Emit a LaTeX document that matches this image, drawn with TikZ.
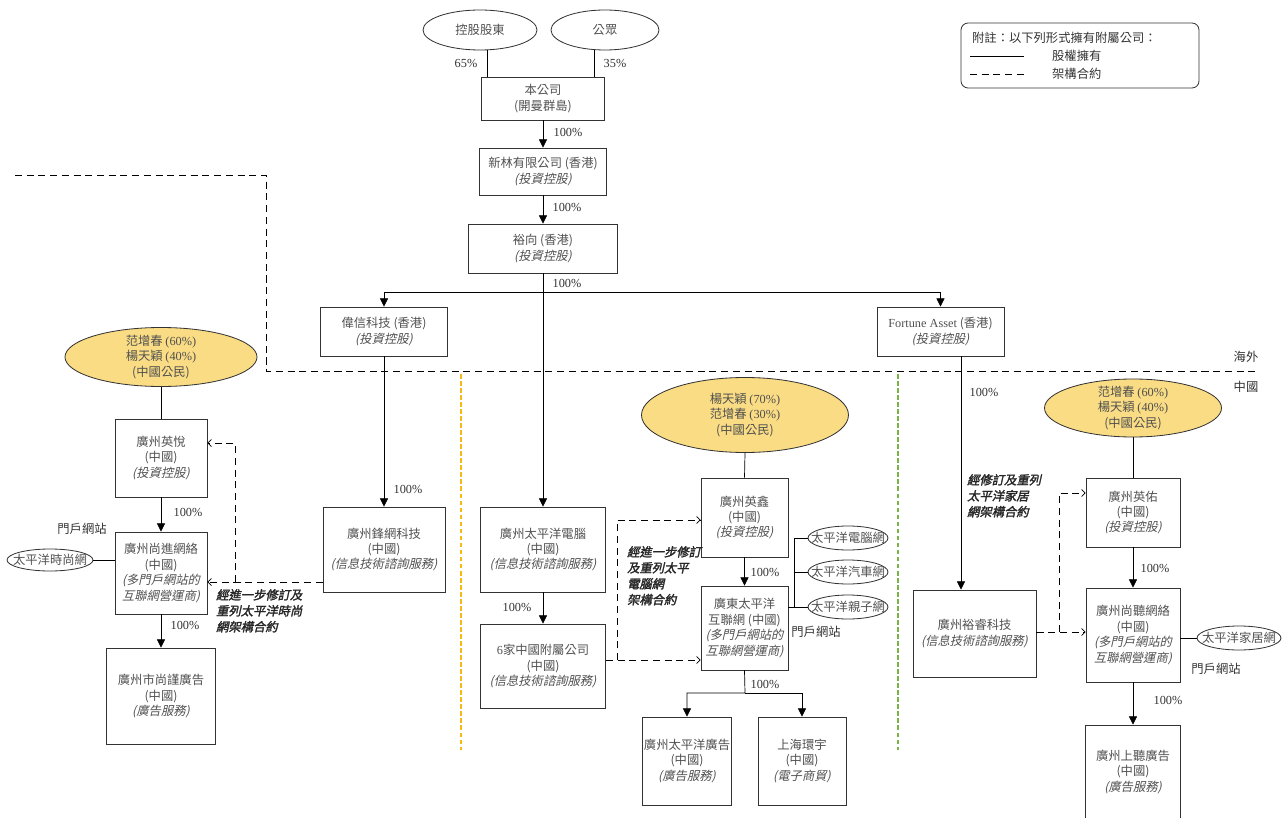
\documentclass[tikz,border=0pt]{standalone}
\usepackage{fontspec}
\setmainfont{Noto Sans CJK TC}[AutoFakeSlant=0.22,AutoFakeBold=2]
\newfontfamily\numfont{Liberation Serif}
\usepackage{tikz}
\usetikzlibrary{shapes,arrows.meta,calc,positioning}
\definecolor{ownfill}{RGB}{249,220,132}
\definecolor{hkline}{RGB}{245,185,20}
\definecolor{cnline}{RGB}{120,180,70}
\definecolor{boxtext}{RGB}{80,80,80}
\tikzset{sz/.style 2 args={minimum width=#1*0.03cm,minimum height=#2*0.03cm}}

\begin{document}
\begin{tikzpicture}[x=0.03cm,y=-0.03cm]
	\tikzstyle{every node}=[font=\fontsize{10.5}{13.2}\selectfont]
	\tikzstyle{ent}=[draw=black!80,line width=0.8pt,align=center,inner sep=1pt,text=boxtext]
	\tikzstyle{own}=[ellipse,draw=black!80,line width=0.7pt,fill=ownfill,align=center,inner sep=0pt,inner ysep=-2pt,text=boxtext]
	\tikzstyle{site}=[ellipse,draw=black!80,line width=0.7pt,inner xsep=-8pt,inner ysep=0pt,text=boxtext]
	\tikzstyle{pct}=[font=\numfont\fontsize{10.5}{13}\selectfont,text=black!80]
	\tikzstyle{lab}=[text=black!80]
	\tikzstyle{ctrtext}=[align=left,anchor=north west,font=\fontsize{10.5}{13.6}\selectfont\bfseries\itshape,text=black!85]
	\tikzstyle{ln} = [draw,line width=0.6pt]
	\tikzstyle{l} = [draw,line width=0.6pt,-{Triangle[width=7pt,length=7pt]}]
	\tikzstyle{lc} = [draw,line width=0.6pt,dash pattern=on 6pt off 4pt,-{Straight Barb[length=3pt,width=6pt]}]
	\tikzstyle{sep} = [draw,line width=0.6pt,dash pattern=on 6pt off 4pt]
	\tikzstyle{hk} = [draw=hkline,line width=1.2pt,dash pattern=on 4pt off 2pt]
	\tikzstyle{cn} = [draw=cnline,line width=1.2pt,dash pattern=on 4pt off 2pt]
	\useasboundingbox (0,0) rectangle (1283,818);

	%% legend
	\node[draw=black!80,rounded corners=6pt,line width=0.7pt,sz={238}{65}] (lg) at (1080,55.5) {};
	\node[lab,anchor=west] (lgt) at (968,38) {附註：以下列形式擁有附屬公司：};
	\node[lab,anchor=west] (lgs) at (1048,56) {股權擁有};
	\node[lab,anchor=west] (lgc) at (1048,74) {架構合約};
	\coordinate (lg1) at (970,56);
	\coordinate (lg2) at (1024,56);
	\coordinate (lg3) at (970,74);
	\coordinate (lg4) at (1024,74);
	\draw [ln] (lg1) -- (lg2);
	\draw [sep] (lg3) -- (lg4);

	%% offshore
	\node[site,sz={114}{40}] (ctrl) at (480,30) {控股股東};
	\node[site,sz={108}{40}] (pub) at (605,30) {公眾};
	\node[ent,sz={123}{43}] (co) at (543,98.5) {本公司\\(開曼群島)};
	\node[ent,sz={127}{47}] (xl) at (543,171.5) {新林有限公司 (香港)\\\textit{(投資控股)}};
	\node[ent,sz={149}{49}] (yx) at (543,248.5) {裕向 (香港)\\\textit{(投資控股)}};
	\node[ent,sz={127}{49}] (wx) at (384,331.5) {偉信科技 (香港)\\\textit{(投資控股)}};
	\node[ent,sz={127}{49}] (fa) at (940.5,331.5) {{\numfont Fortune Asset} (香港)\\\textit{(投資控股)}};

	%% left group
	\node[own,sz={192}{59}] (lown) at (161,357) {范增春 {\numfont(60\%)}\\楊天穎 {\numfont(40\%)}\\(中國公民)};
	\node[ent,sz={92}{78}] (yy) at (161,458) {廣州英悅\\(中國)\\\textit{(投資控股)}};
	\node[ent,sz={92}{82}] (sj) at (161,573) {廣州尚進網絡\\(中國)\\\textit{(多門戶網站的}\\\textit{互聯網營運商)}};
	\node[ent,sz={109}{96}] (sjad) at (161,696) {廣州市尚謹廣告\\(中國)\\\textit{(廣告服務)}};
	\node[site,sz={86}{22}] (fash) at (50,560) {太平洋時尚網};
	\node[lab] (lweb) at (82,529) {門戶網站};
	\node[ent,sz={122}{85}] (fw) at (384,549.5) {廣州鋒網科技\\(中國)\\\textit{(信息技術諮詢服務)}};

	%% middle group
	\node[ent,sz={125}{85}] (pc) at (543,549.5) {廣州太平洋電腦\\(中國)\\\textit{(信息技術諮詢服務)}};
	\node[ent,sz={125}{84}] (six) at (543,666) {{\numfont 6}家中國附屬公司\\(中國)\\\textit{(信息技術諮詢服務)}};
	\node[own,sz={207}{75}] (mown) at (745,415) {楊天穎 {\numfont(70\%)}\\范增春 {\numfont(30\%)}\\(中國公民)};
	\node[ent,sz={87}{79}] (yxin) at (744.5,517.5) {廣州英鑫\\(中國)\\\textit{(投資控股)}};
	\node[ent,sz={87}{84}] (gd) at (744.5,628) {廣東太平洋\\互聯網 (中國)\\\textit{(多門戶網站的}\\\textit{互聯網營運商)}};
	\node[site,sz={80}{24}] (w1) at (848,538) {太平洋電腦網};
	\node[site,sz={80}{24}] (w2) at (848,572) {太平洋汽車網};
	\node[site,sz={80}{24}] (w3) at (848,607) {太平洋親子網};
	\node[lab] (mweb) at (816,632) {門戶網站};
	\node[ent,sz={88}{88}] (pad) at (687,761) {廣州太平洋廣告\\(中國)\\\textit{(廣告服務)}};
	\node[ent,sz={88}{88}] (hy) at (802,761) {上海環宇\\(中國)\\\textit{(電子商貿)}};

	%% right group
	\node[own,sz={177}{58}] (rown) at (1133,408) {范增春 {\numfont(60\%)}\\楊天穎 {\numfont(40\%)}\\(中國公民)};
	\node[ent,sz={94}{69}] (yyou) at (1133,512.5) {廣州英佑\\(中國)\\\textit{(投資控股)}};
	\node[ent,sz={94}{94}] (st) at (1133,635) {廣州尚聽網絡\\(中國)\\\textit{(多門戶網站的}\\\textit{互聯網營運商)}};
	\node[ent,sz={95}{94}] (stad) at (1133,772) {廣州上聽廣告\\(中國)\\\textit{(廣告服務)}};
	\node[site,sz={84}{24}] (home) at (1239,638) {太平洋家居網};
	\node[lab] (rweb) at (1216,669) {門戶網站};
	\node[ent,sz={123}{87}] (yr) at (974.5,633.5) {廣州裕睿科技\\\textit{(信息技術諮詢服務)}};

	%% region lines
	\coordinate (ov0) at (15,175);
	\coordinate (ov1) at (266,175);
	\coordinate (ov2) at (266,371);
	\coordinate (ov3) at (1258,371);
	\draw [sep] (ov0) -- (ov1) -- (ov2) -- (ov3);
	\node[lab] (osea) at (1246,357) {海外};
	\node[lab] (prc) at (1246,387) {中國};
	\coordinate (hk0) at (461,374);
	\coordinate (hk1) at (461,750);
	\coordinate (cn0) at (898,374);
	\coordinate (cn1) at (898,750);
	\draw [hk] (hk0) -- (hk1);
	\draw [cn] (cn0) -- (cn1);

	%% shareholding
	\draw [ln] (ctrl.-71) -- (ctrl.-71 |- co.north);
	\draw [ln] (pub.-117) -- (pub.-117 |- co.north);
	\draw [l] (co.south) -- (xl.north);
	\draw [l] (xl.south) -- (yx.north);
	\coordinate (bar) at (543,292);
	\draw [l] (yx.south) -- (bar) -| (wx.north);
	\draw [l] (bar) -| (fa.north);
	\draw [l] (yx.south) -- (pc.north);
	\draw [l] (wx.south) -- (fw.north);
	\coordinate (fadown) at (961,0);
	\draw [l] (fa.south -| fadown) -- (yr.north -| fadown);
	\draw [l] (pc.south) -- (six.north);

	\draw [ln] (lown.south) -- (yy.north);
	\draw [l] (yy.south) -- (sj.north);
	\draw [l] (sj.south) -- (sjad.north);
	\draw [ln] (fash.east) -- (sj.west |- fash.east);

	\draw [ln] (mown.south) -- (yxin.north);
	\draw [l] (yxin.south) -- (gd.north);
	\coordinate (br) at (794,0);
	\draw [ln] (gd.east |- w3) -- (w3.west);
	\draw [ln] (br |- w1) -- (br |- w3);
	\draw [ln] (br |- w1) -- (w1.west);
	\draw [ln] (br |- w2) -- (w2.west);
	\coordinate (split) at (745,693);
	\draw [l] (gd.south) -- (split) -| (pad.north);
	\draw [l] (split) -| (hy.north);

	\draw [ln] (rown.south) -- (yyou.north);
	\draw [l] (yyou.south) -- (st.north);
	\draw [l] (st.south) -- (stad.north);
	\draw [ln] (st.east |- home) -- (home.west);

	%% percentages
	\node[pct] (p1) at (466,63) {65\%};
	\node[pct] (p2) at (615,63) {35\%};
	\node[pct] (p3) at (568,132) {100\%};
	\node[pct] (p4) at (567,207) {100\%};
	\node[pct] (p5) at (567,283) {100\%};
	\node[pct] (p6) at (408,489) {100\%};
	\node[pct] (p7) at (984,392) {100\%};
	\node[pct] (p8) at (188,512) {100\%};
	\node[pct] (p9) at (185,625) {100\%};
	\node[pct] (p10) at (517,607) {100\%};
	\node[pct] (p11) at (765,572) {100\%};
	\node[pct] (p12) at (765,684) {100\%};
	\node[pct] (p13) at (1155,568) {100\%};
	\node[pct] (p14) at (1168,700) {100\%};

	%% contractual arrangements
	\coordinate (lk0) at (235,582);
	\coordinate (lk1) at (235,443);
	\draw [lc] (fw.west |- lk0) -- (sj.east |- lk0);
	\draw [lc] (lk0) -- (lk1) -- (yy.east |- lk1);
	\node[ctrtext] (lct) at (212,585) {經進一步修訂及\\重列太平洋時尚\\網架構合約};

	\coordinate (mk0) at (617,660);
	\coordinate (mk1) at (617,520);
	\draw [lc] (six.east |- mk0) -- (gd.west |- mk0);
	\draw [lc] (mk0) -- (mk1) -- (yxin.west |- mk1);
	\node[ctrtext] (mct) at (623,542) {經進一步修訂\\及重列太平\\電腦網\\架構合約};

	\coordinate (rk0) at (1059,632);
	\coordinate (rk1) at (1059,493);
	\draw [lc] (yr.east |- rk0) -- (st.west |- rk0);
	\draw [lc] (rk0) -- (rk1) -- (yyou.west |- rk1);
	\node[ctrtext] (rct) at (963,470) {經修訂及重列\\太平洋家居\\網架構合約};
\end{tikzpicture}
\end{document}
